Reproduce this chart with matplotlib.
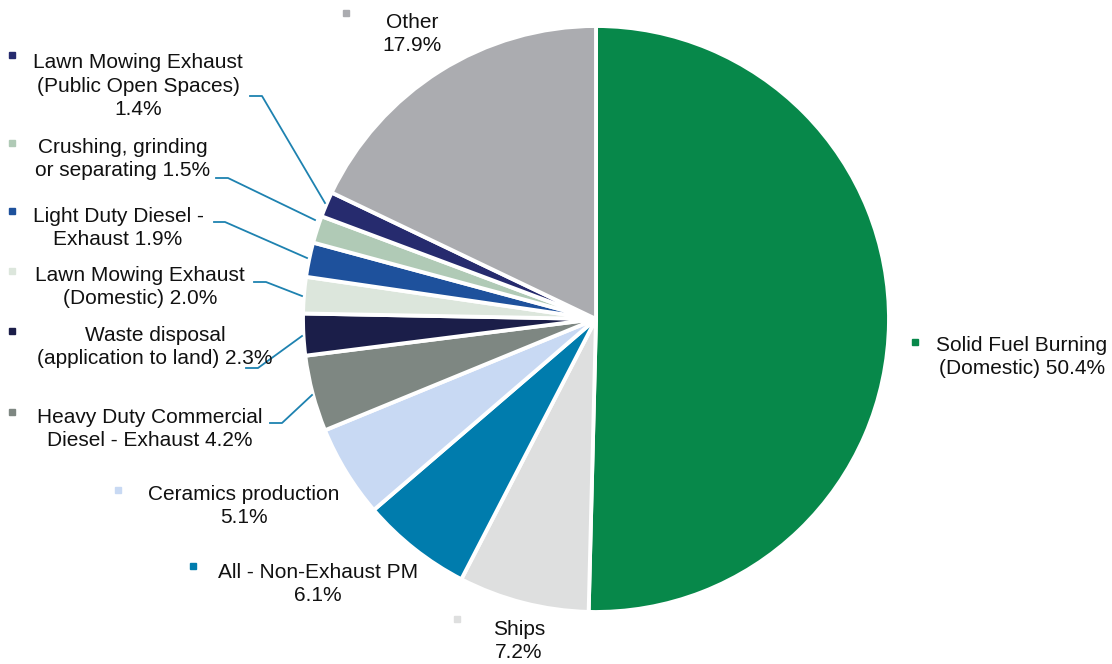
import matplotlib.pyplot as plt

plt.rcParams['font.family'] = ['Liberation Sans', 'DejaVu Sans']

# data
categories = ["Solid Fuel Burning\n(Domestic)", "Ships", "All - Non-Exhaust PM",
              "Ceramics production", "Heavy Duty Commercial\nDiesel - Exhaust",
              "Waste disposal\n(application to land)", "Lawn Mowing Exhaust\n(Domestic)",
              "Light Duty Diesel -\nExhaust", "Crushing, grinding\nor separating",
              "Lawn Mowing Exhaust\n(Public Open Spaces)", "Other"]
shares = [50.4, 7.2, 6.1, 5.1, 4.2, 2.3, 2.0, 1.9, 1.5, 1.4, 17.9]
colors = ["#07884A", "#DEDFDF", "#007CAD", "#C8D9F3", "#7E8782", "#1B1E49",
          "#DCE6DC", "#1E519C", "#B0CAB6", "#262B6E", "#ABACB0"]

W, H = 1112, 664
fig = plt.figure(figsize=(W / 100, H / 100), dpi=100)
ax = fig.add_axes([0, 0, 1, 1])
ax.set_xlim(0, W)
ax.set_ylim(0, H)
ax.set_aspect('equal')
ax.axis('off')


def py(y):
    # pixel row (from top) -> data y
    return H - y


ax.pie(shares, colors=colors, startangle=90, counterclock=False,
       center=(596, py(319)), radius=293, frame=False,
       wedgeprops=dict(edgecolor='white', linewidth=2.8))
ax.set_xlim(0, W)
ax.set_ylim(0, H)

label_text = [
    "Solid Fuel Burning\n(Domestic) 50.4%",
    "Ships\n7.2%",
    "All - Non-Exhaust PM\n6.1%",
    "Ceramics production\n5.1%",
    "Heavy Duty Commercial\nDiesel - Exhaust 4.2%",
    "Waste disposal\n(application to land) 2.3%",
    "Lawn Mowing Exhaust\n(Domestic) 2.0%",
    "Light Duty Diesel -\nExhaust 1.9%",
    "Crushing, grinding\nor separating 1.5%",
    "Lawn Mowing Exhaust\n(Public Open Spaces)\n1.4%",
    "Other\n17.9%",
]
# centre x and centre y of each label block, in pixels from top-left
text_pos = [(1022, 357), (519, 641), (318, 584), (244, 506), (150, 429),
            (155, 347), (140, 287), (118, 228), (123, 159), (138, 86), (412, 34)]
marker_pos = [(915, 342), (457, 619), (193, 566), (118, 490), (12, 412),
              (12, 331), (12, 271), (12, 211), (12, 143), (12, 55), (346, 13)]

for txt, (tx, ty), (mx, my), c in zip(label_text, text_pos, marker_pos, colors):
    ax.text(tx, py(ty), txt, ha='center', va='center', fontsize=15,
            color='#111111', linespacing=1.28, multialignment='center')
    ax.plot(mx, py(my), marker='s', markersize=4.5, color=c, linestyle='none')

# leader lines
leaders = [
    [(250, 96), (262, 96), (325, 203)],
    [(216, 178), (228, 178), (315, 220)],
    [(214, 222), (225, 222), (307, 258)],
    [(254, 282), (266, 282), (302, 296)],
    [(246, 368), (258, 368), (302, 336)],
    [(270, 423), (282, 423), (312, 395)],
]
for pts in leaders:
    ax.plot([p[0] for p in pts], [py(p[1]) for p in pts], color='#1E82B0', linewidth=1.3)

fig.savefig("out.png", dpi=100)
